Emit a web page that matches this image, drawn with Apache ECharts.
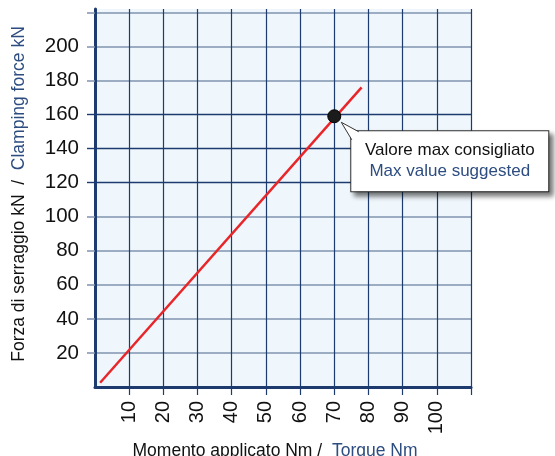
<!DOCTYPE html>
<html>
<head>
<meta charset="utf-8">
<script src="https://cdn.jsdelivr.net/npm/echarts@6/dist/echarts.min.js"></script>
<style>
  html, body { margin: 0; padding: 0; background: #ffffff; }
  #chart { width: 555px; height: 456px; }
</style>
</head>
<body>
<div id="chart"></div>
<script>
// valori
var xTicks = [10, 20, 30, 40, 50, 60, 70, 80, 90, 100];
var yTicks = [20, 40, 60, 80, 100, 120, 140, 160, 180, 200];
var yDarkTicks = [120, 140, 160];
var yLightTicks = [20, 40, 60, 80, 100, 180, 200, 220];
var xTickMarks = [10, 20, 30, 40, 50, 60, 70, 80, 90, 100, 110];
var forceLine = [[1.5, 2.5], [78, 176]];
var maxPoint = [[70, 159]];

var FONT = "'Liberation Sans', Arial, sans-serif";
var NAVY = '#1d3b6e';
var LIGHT = '#7f93b0';
var BLUE = '#2d4d80';

var chart = echarts.init(document.getElementById('chart'));

var option = {
  animation: false,
  grid: {
    left: 95, right: 84, top: 9, bottom: 69,
    outerBoundsMode: 'none', containLabel: false,
    show: true, backgroundColor: '#eff7fc', borderWidth: 0
  },
  xAxis: {
    type: 'value', min: 0, max: 110, interval: 10,
    name: '{a|Momento applicato Nm /  }{b|Torque Nm}',
    nameLocation: 'middle', nameGap: 52,
    nameTextStyle: {
      padding: [0, 16, 0, 0],
      rich: {
        a: { fontFamily: FONT, fontSize: 17.5, color: '#111' },
        b: { fontFamily: FONT, fontSize: 17.5, color: BLUE }
      }
    },
    axisLine: { show: true, lineStyle: { color: NAVY, width: 3 } },
    axisTick: { show: true, inside: false, length: 8, customValues: xTickMarks, lineStyle: { color: NAVY, width: 1.2 } },
    axisLabel: {
      customValues: xTicks, rotate: 90, margin: 14,
      fontFamily: FONT, fontSize: 20, color: '#111'
    },
    splitLine: { show: true, lineStyle: { color: NAVY, width: 1.2 } }
  },
  yAxis: [{
    type: 'value', min: 0, max: 222, interval: 20,
    name: '{a|Forza di serraggio kN  /  }{b|Clamping force kN}',
    nameLocation: 'middle', nameGap: 67,
    nameTextStyle: {
      padding: [0, 0, 0, 8],
      rich: {
        a: { fontFamily: FONT, fontSize: 17.5, color: '#111' },
        b: { fontFamily: FONT, fontSize: 17.5, color: BLUE }
      }
    },
    axisLine: { show: true, lineStyle: { color: NAVY, width: 3 } },
    axisTick: { show: true, length: 8, customValues: yLightTicks, lineStyle: { color: LIGHT, width: 1.5 } },
    axisLabel: {
      customValues: yTicks, margin: 16,
      fontFamily: FONT, fontSize: 20.5, color: '#111'
    },
    splitLine: { show: true, lineStyle: { color: LIGHT, width: 1.6 } }
  }, {
    // righe e tacche scure a 120, 140, 160
    type: 'value', min: 0, max: 222, position: 'left',
    axisLine: { show: false },
    axisTick: { show: true, length: 8, customValues: yDarkTicks, lineStyle: { color: NAVY, width: 1.4 } },
    axisLabel: { show: false },
    splitLine: { show: true, lineStyle: { color: NAVY, width: 1.4 } }
  }],
  series: [{
    type: 'line',
    data: forceLine,
    symbol: 'none',
    lineStyle: { color: '#e8262a', width: 2.5 },
    z: 3
  }, {
    type: 'scatter',
    data: maxPoint,
    symbolSize: 13,
    itemStyle: { color: '#1b1b1b', opacity: 1, borderColor: '#000', borderWidth: 1 },
    z: 4,
    label: {
      show: true,
      position: [24, 22],
      align: 'left',
      verticalAlign: 'top',
      formatter: '{a|Valore max consigliato}\n{b|Max value suggested}',
      backgroundColor: '#ffffff',
      borderColor: '#333333',
      borderWidth: 1,
      padding: [9, 10, 9, 10],
      shadowColor: 'rgba(0,0,0,0.6)',
      shadowBlur: 5,
      shadowOffsetX: 4,
      shadowOffsetY: 4,
      rich: {
        a: { fontFamily: FONT, fontSize: 17, color: '#111', width: 177, align: 'center', lineHeight: 21 },
        b: { fontFamily: FONT, fontSize: 17, color: BLUE, width: 177, align: 'center', lineHeight: 21 }
      }
    }
  }]
};

chart.setOption(option);

// punta del fumetto verso il punto massimo
var p = chart.convertToPixel({ seriesIndex: 1 }, maxPoint[0]);
var boxX = p[0] + 24 - 6.5, boxY = p[1] + 22 - 6.5;
var tip = [p[0] + 7, p[1] + 6];
var a = [boxX, boxY + 8];
var b = [boxX + 7, boxY];
chart.setOption({
  graphic: [{
    type: 'polygon', z: 100,
    shape: { points: [tip, [a[0] + 0.5, a[1] + 0.5], [boxX + 1, boxY + 1], [b[0] + 0.5, b[1] + 0.5]] },
    style: { fill: '#ffffff' }
  }, {
    type: 'polyline', z: 101,
    shape: { points: [a, tip, b] },
    style: { stroke: '#333333', lineWidth: 1, fill: null }
  }]
});
</script>
</body>
</html>
